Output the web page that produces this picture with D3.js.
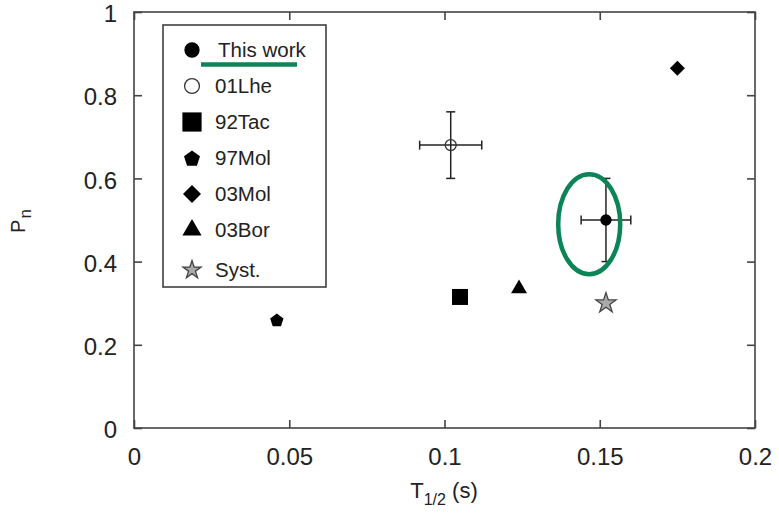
<!DOCTYPE html>
<html>
<head>
<meta charset="utf-8">
<script src="https://cdn.jsdelivr.net/npm/d3@7"></script>
<style>
  body { margin: 0; background: #fff; }
  text { font-family: "Liberation Sans", Arial, sans-serif; fill: #222; }
</style>
</head>
<body>
<script>
// data
const series = ["This work", "01Lhe", "92Tac", "97Mol", "03Mol", "03Bor", "Syst."]
const tHalf = [0.152, 0.102, 0.105, 0.046, 0.175, 0.124, 0.152]
const pn = [0.50, 0.68, 0.315, 0.26, 0.865, 0.335, 0.30]
const tErr = [0.008, 0.010, 0, 0, 0, 0, 0]
const pnErr = [0.10, 0.08, 0, 0, 0, 0, 0]
const xTicks = [0, 0.05, 0.1, 0.15, 0.2]
const yTicks = [0, 0.2, 0.4, 0.6, 0.8, 1]

const width = 779
const height = 513
const plotL = 134, plotR = 755, plotT = 12, plotB = 428

const sx = d3.scaleLinear().domain([0, 0.2]).range([plotL, plotR])
const sy = d3.scaleLinear().domain([0, 1]).range([plotB, plotT])

const svg = d3.select("body").append("svg")
    .attr("width", width)
    .attr("height", height)

// marker shapes
function pentagon (r) {
    let pts = d3.range(5).map(i => {
        let a = -Math.PI / 2 + i * 2 * Math.PI / 5
        return [r * Math.cos(a), r * Math.sin(a) + r * 0.1]
    })
    return "M" + pts.join("L") + "Z"
}
function diamond (r) {
    return `M0,${-r}L${r},0L0,${r}L${-r},0Z`
}
const shapes = [
    s => d3.symbol(d3.symbolCircle, Math.PI * (5 * s) ** 2)(),
    s => d3.symbol(d3.symbolCircle, Math.PI * (5.5 * s) ** 2)(),
    s => d3.symbol(d3.symbolSquare, (16 * s) ** 2)(),
    s => pentagon(7 * s),
    s => diamond(7.5 * s),
    s => d3.symbol(d3.symbolTriangle, 110 * s * s)(),
    s => d3.symbol(d3.symbolStar, 125 * s * s)()
]
const fills = ["#000", "none", "#000", "#000", "#000", "#000", "#aaa"]
const strokes = ["#000", "#333", "none", "none", "none", "none", "#444"]
const legendScale = [1.4, 1.35, 1.2, 1.2, 1.2, 1.2, 0.9]

// axes with inward ticks on all four sides
const tickLen = 8
svg.append("g")
    .attr("transform", `translate(0,${plotB})`)
    .call(d3.axisBottom(sx).tickValues(xTicks).tickSize(-tickLen).tickSizeOuter(0)
        .tickPadding(20).tickFormat(d3.format("")))
svg.append("g")
    .attr("transform", `translate(0,${plotT})`)
    .call(d3.axisTop(sx).tickValues(xTicks).tickSize(-tickLen).tickSizeOuter(0).tickFormat(""))
let yAxis = svg.append("g")
    .attr("transform", `translate(${plotL},0)`)
    .call(d3.axisLeft(sy).tickValues(yTicks).tickSize(-tickLen).tickSizeOuter(0)
        .tickPadding(17).tickFormat(d3.format("")))
yAxis.selectAll(".tick text").attr("dy", "0.4em")
svg.append("g")
    .attr("transform", `translate(${plotR},0)`)
    .call(d3.axisRight(sy).tickValues(yTicks).tickSize(-tickLen).tickSizeOuter(0).tickFormat(""))

svg.selectAll(".domain").remove()
svg.selectAll(".tick line").attr("stroke", "#444").attr("stroke-width", 1.6)
svg.selectAll(".tick text")
    .style("font-size", "24px")
    .attr("fill", "#222")

svg.append("rect")
    .attr("x", plotL).attr("y", plotT)
    .attr("width", plotR - plotL).attr("height", plotB - plotT)
    .attr("fill", "none")
    .attr("stroke", "#444")
    .attr("stroke-width", 1.6)

// axis titles
let xt = svg.append("text")
    .attr("x", 444).attr("y", 498)
    .attr("text-anchor", "middle")
    .style("font-size", "22px")
xt.append("tspan").text("T")
xt.append("tspan").text("1/2").attr("dy", 7).style("font-size", "16px")
xt.append("tspan").text(" (s)").attr("dy", -7)

let yt = svg.append("text")
    .attr("transform", "translate(25,221) rotate(-90)")
    .attr("text-anchor", "middle")
    .style("font-size", "20px")
yt.append("tspan").text("P")
yt.append("tspan").text("n").attr("dy", 6).attr("dx", 1).style("font-size", "17px")

// error bars
const cap = 4.5
const errs = series.map((s, i) => i).filter(i => tErr[i] > 0 || pnErr[i] > 0)
let eg = svg.append("g").attr("stroke", "#222").attr("stroke-width", 1.5)
errs.forEach(i => {
    let cx = sx(tHalf[i]), cy = sy(pn[i])
    let x0 = sx(tHalf[i] - tErr[i]), x1 = sx(tHalf[i] + tErr[i])
    let y0 = sy(pn[i] - pnErr[i]), y1 = sy(pn[i] + pnErr[i])
    eg.append("line").attr("x1", x0).attr("x2", x1).attr("y1", cy).attr("y2", cy)
    eg.append("line").attr("x1", cx).attr("x2", cx).attr("y1", y0).attr("y2", y1)
    ;[x0, x1].forEach(x => eg.append("line").attr("x1", x).attr("x2", x).attr("y1", cy - cap).attr("y2", cy + cap))
    ;[y0, y1].forEach(y => eg.append("line").attr("y1", y).attr("y2", y).attr("x1", cx - cap).attr("x2", cx + cap))
})

// points
svg.append("g")
    .selectAll("path")
    .data(series)
    .enter().append("path")
    .attr("transform", (d, i) => `translate(${sx(tHalf[i])},${sy(pn[i])})`)
    .attr("d", (d, i) => shapes[i](1))
    .attr("fill", (d, i) => fills[i])
    .attr("stroke", (d, i) => strokes[i])
    .attr("stroke-width", 1.3)

// legend
const lx = 163, ly = 25, lw = 163, lh = 262, rowH = 36
let lg = svg.append("g")
lg.append("rect")
    .attr("x", lx).attr("y", ly).attr("width", lw).attr("height", lh)
    .attr("fill", "#fff").attr("stroke", "#333").attr("stroke-width", 1.5)
let items = lg.selectAll(".item")
    .data(series)
    .enter().append("g")
    .attr("transform", (d, i) => `translate(${lx + 29},${ly + 25 + i * rowH + (i === 6 ? 4 : 0)})`)
items.append("path")
    .attr("d", (d, i) => shapes[i](legendScale[i]))
    .attr("fill", (d, i) => fills[i])
    .attr("stroke", (d, i) => strokes[i])
    .attr("stroke-width", 1.3)
items.append("text")
    .attr("x", (d, i) => i === 0 ? 26 : 23)
    .attr("y", 7)
    .style("font-size", "20.5px")
    .text(d => d)

// green annotations
svg.append("line")
    .attr("x1", 201).attr("x2", 297).attr("y1", 64.5).attr("y2", 64.5)
    .attr("stroke", "#0b8457").attr("stroke-width", 4.5)
svg.append("ellipse")
    .attr("cx", sx(0.1466)).attr("cy", sy(0.49))
    .attr("rx", 31).attr("ry", 50)
    .attr("fill", "none")
    .attr("stroke", "#0b8457")
    .attr("stroke-width", 4.5)
</script>
</body>
</html>
